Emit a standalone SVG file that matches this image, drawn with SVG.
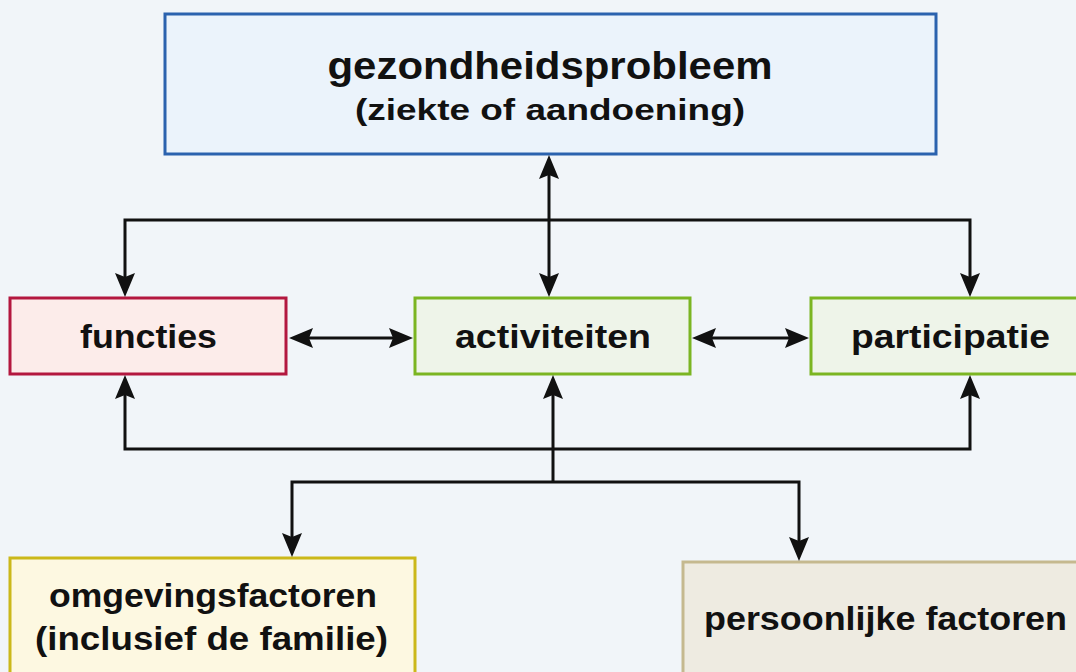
<svg xmlns="http://www.w3.org/2000/svg" width="1076" height="672" viewBox="0 0 1076 672">
<defs>
<style>
.lbl{font-family:"Liberation Sans",Arial,sans-serif;font-weight:bold;fill:#111;text-anchor:middle}
.t1{font-size:38px}
.t2{font-size:30px}
.t3{font-size:33px}
.con{fill:none;stroke:#111;stroke-width:3;stroke-linejoin:miter}
</style>
<marker id="ah" markerUnits="userSpaceOnUse" markerWidth="26" markerHeight="22" refX="15" refY="10" orient="auto-start-reverse" viewBox="0 0 26 22">
<path d="M0,0 L24,10 L0,20 L4,10 Z" fill="#111"/>
</marker>
</defs>
<rect x="0" y="0" width="1076" height="672" fill="#f1f5f9"/>

<g id="gezondheidsprobleem">
<rect x="165" y="14" width="771" height="140" fill="#ebf3fb" stroke="#2b62ae" stroke-width="3"/>
<text class="lbl t1" x="550" y="79" textLength="445" lengthAdjust="spacingAndGlyphs">gezondheidsprobleem</text>
<text class="lbl t2" x="550" y="120" textLength="390" lengthAdjust="spacingAndGlyphs">(ziekte of aandoening)</text>
</g>

<g id="functies">
<rect x="10" y="298" width="276" height="76" fill="#fcecea" stroke="#b3173f" stroke-width="3"/>
<text class="lbl t3" x="148.5" y="348" textLength="137" lengthAdjust="spacingAndGlyphs">functies</text>
</g>

<g id="activiteiten">
<rect x="415" y="298" width="275" height="76" fill="#eef4e9" stroke="#7bb522" stroke-width="3"/>
<text class="lbl t3" x="553" y="348" textLength="196" lengthAdjust="spacingAndGlyphs">activiteiten</text>
</g>

<g id="participatie">
<rect x="811" y="298" width="280" height="76" fill="#eef4e9" stroke="#7bb522" stroke-width="3"/>
<text class="lbl t3" x="950.5" y="348" textLength="199" lengthAdjust="spacingAndGlyphs">participatie</text>
</g>

<g id="omgevingsfactoren">
<rect x="10" y="558" width="405" height="130" fill="#fdf8e1" stroke="#cbb81a" stroke-width="3"/>
<text class="lbl t3" x="213" y="607" textLength="328" lengthAdjust="spacingAndGlyphs">omgevingsfactoren</text>
<text class="lbl t3" x="211.5" y="650" textLength="353" lengthAdjust="spacingAndGlyphs">(inclusief de familie)</text>
</g>

<g id="persoonlijke-factoren">
<rect x="683" y="562" width="410" height="130" fill="#eeebe1" stroke="#c5b98f" stroke-width="3"/>
<text class="lbl t3" x="885.5" y="630" textLength="363" lengthAdjust="spacingAndGlyphs">persoonlijke factoren</text>
</g>

<g id="connectors">
<path class="con" d="M549,164 L549,288" marker-start="url(#ah)" marker-end="url(#ah)"/>
<path class="con" d="M125,288 L125,220 L970,220 L970,288" marker-start="url(#ah)" marker-end="url(#ah)"/>
<path class="con" d="M298,338 L404,338" marker-start="url(#ah)" marker-end="url(#ah)"/>
<path class="con" d="M701,338 L800,338" marker-start="url(#ah)" marker-end="url(#ah)"/>
<path class="con" d="M125,384 L125,449 L970,449 L970,384" marker-start="url(#ah)" marker-end="url(#ah)"/>
<path class="con" d="M553,482 L553,384" marker-end="url(#ah)"/>
<path class="con" d="M292,548 L292,482 L799,482 L799,552" marker-start="url(#ah)" marker-end="url(#ah)"/>
</g>
</svg>
